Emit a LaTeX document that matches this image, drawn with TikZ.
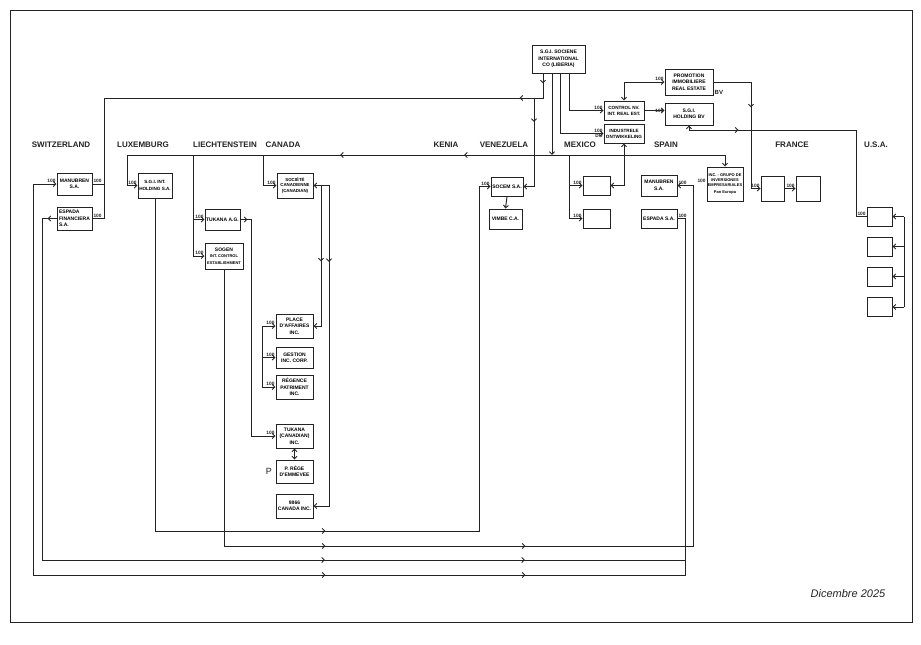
\documentclass[tikz,border=0pt]{standalone}
\usepackage{fontspec}
\setmainfont{Liberation Sans}
\usetikzlibrary{arrows.meta,calc,decorations.markings}
\definecolor{ink}{RGB}{35,35,35}
\newcommand\entsm{\fontsize{4}{5}\selectfont}
\tikzset{
  >={Straight Barb[length=2.6pt,width=5pt]},
  wire/.style={draw=ink,line width=0.95pt},
  ent/.style 2 args={draw=ink,line width=1pt,fill=white,inner sep=0.5pt,
    minimum width=#1,minimum height=#2,align=center,
    font=\bfseries\fontsize{5}{6.4}\selectfont},
  cty/.style={font=\bfseries\fontsize{8}{10}\selectfont,text=ink},
  pct/.style={font=\bfseries\fontsize{4.8}{5.2}\selectfont,text=ink,inner sep=0.8pt},
  fl/.style={postaction={decorate,decoration={markings,
    mark=at position #1 with {\arrow{>}}}}},
}
\begin{document}
\begin{tikzpicture}[x=1pt,y=-1pt]
\useasboundingbox (0,0) rectangle (921,645);
\draw[ink,line width=0.9pt] (10,10) rectangle (912,622);

% countries
\foreach \x/\t in {61/SWITZERLAND,143/LUXEMBURG,225/LIECHTENSTEIN,283/CANADA,
  446/KENIA,504/VENEZUELA,580/MEXICO,666/SPAIN,792/FRANCE,876/U.S.A.}
  \node[cty] (c\x) at (\x,145) {\t};

% holding at the top
\node[ent={53pt}{28pt}] (soc) at (558.5,59) {S.G.I. SOCIENE\\INTERNATIONAL\\CO (LIBERIA)};
\node[ent={48pt}{26pt}] (promo) at (689,82) {PROMOTION\\IMMOBILIERE\\REAL ESTATE};
\node[ent={40pt}{19pt},font=\bfseries\fontsize{4.6}{6}\selectfont] (ctrl) at (624,110.5) {CONTROL NV.\\INT. REAL EST.};
\node[ent={48pt}{22pt}] (hold) at (689,114) {S.G.I.\\HOLDING BV};
\node[ent={40pt}{19pt},font=\bfseries\fontsize{4.6}{6}\selectfont] (indus) at (624,133.5) {INDUSTRELE\\ONTWIKKELING};

% countries' companies
\node[ent={35pt}{22pt}] (chman) at (74.5,184) {MANUBREN\\S.A.};
\node[ent={35pt}{23pt},align=left] (chesp) at (74.5,218.5) {ESPADA\\FINANCIERA\\S.A.};
\node[ent={34pt}{25pt},font=\bfseries\fontsize{4.6}{6.2}\selectfont] (luxsgi) at (155,185.5) {S.G.I. INT.\\HOLDING S.A.};
\node[ent={35pt}{21pt}] (tukag) at (222.5,219.5) {TUKANA A.G.};
\node[ent={38pt}{26pt}] (sogen) at (224,256) {SOGEN\\{\entsm INT. CONTROL}\\{\entsm ESTABLISHMENT}};
\node[ent={36pt}{25pt},font=\bfseries\fontsize{4.4}{5.8}\selectfont] (soccan) at (295,185.5) {SOCIÉTÉ\\CANADIENNE\\(CANADIAN)};
\node[ent={37pt}{24pt}] (place) at (294.5,326) {PLACE\\D'AFFAIRES\\INC.};
\node[ent={37pt}{21pt}] (gestion) at (294.5,357.5) {GESTION\\INC. CORP.};
\node[ent={37pt}{24pt}] (regence) at (294.5,387) {RÉGENCE\\PATRIMENT\\INC.};
\node[ent={37pt}{24pt}] (tukcan) at (294.5,436) {TUKANA\\(CANADIAN)\\INC.};
\node[ent={37pt}{23pt}] (prege) at (294.5,471.5) {P. RÈGE\\D'EMMEVEE};
\node[ent={37pt}{24pt}] (c9866) at (294.5,506) {9866\\CANADA INC.};
\node[ent={32pt}{19pt}] (socem) at (507,186.5) {SOCEM S.A.};
\node[ent={33pt}{20pt}] (vimbe) at (505.5,219) {VIMBE C.A.};
\node[ent={27pt}{19pt}] (mx1) at (596.5,185.5) {};
\node[ent={27pt}{19pt}] (mx2) at (596.5,218.5) {};
\node[ent={36pt}{21pt}] (esman) at (659,185.5) {MANUBREN\\S.A.};
\node[ent={36pt}{19pt}] (esesp) at (659,218.5) {ESPADA S.A.};
\node[ent={36pt}{34pt},font=\bfseries\entsm] (grupo) at (725,184) {INC. - GRUPO DE\\INVERSIONES\\EMPRESARIALES\\[2pt]Pan Europa};
\node[ent={23pt}{25pt}] (fr1) at (772.5,188.5) {};
\node[ent={24pt}{25pt}] (fr2) at (808,188.5) {};
\foreach \i/\y in {1/216.5,2/246.5,3/276.5,4/307}
  \node[ent={25pt}{19pt}] (us\i) at (879.5,\y) {};

% shares
\foreach \b in {chman,luxsgi,tukag,sogen,soccan,place,gestion,regence,tukcan,
  socem,mx1,mx2,grupo,promo,ctrl,hold,indus,fr1,fr2,us1}
  \node[pct,anchor=south east] (l\b) at (\b.west) {100};
\foreach \b in {chman,chesp,esman,esesp}
  \node[pct,anchor=south west] (r\b) at (\b.east) {100};
\node[pct,anchor=north east] (dind) at (indus.west) {DO};
\node[font=\fontsize{9}{10}\selectfont,text=ink,anchor=east] (pnote) at (prege.west) {P};
\node[font=\bfseries\fontsize{6}{7}\selectfont,text=ink,anchor=south west,inner sep=1pt] (bv) at (promo.south east) {BV};
\node[font=\itshape\fontsize{11}{13}\selectfont,text=ink] (date) at (848,594) {Dicembre 2025};

% bends
\coordinate (jSW) at (104,98);
\coordinate (jV1) at (534,98);
\coordinate (bW) at (127,155);
\coordinate (bE) at (725,155);
\coordinate (jLI) at (193,155);
\coordinate (jCA) at (263,155);
\coordinate (jMX) at (569,155);
\coordinate (jFR) at (751,188.5);
\coordinate (jUS) at (856,130);
\coordinate (usR) at (904,216.5);
\coordinate (jPL) at (262,326);
\coordinate (cA) at (321,185.5);
\coordinate (cB) at (329,185.5);
\coordinate (jV) at (479,531);
\coordinate (jS1) at (693,546);
\coordinate (jE) at (42,560);
\coordinate (jE2) at (685,560);
\coordinate (jM) at (33,575);
\coordinate (jM2) at (685,575);

% from the top holding
\draw[wire,fl=10pt,fl=48pt] ([xshift=-15.5pt]soc.south) |- (jSW) |- (chesp.east);
\draw[wire] (chman.east) -- (chman.east -| jSW);
\draw[wire,->,fl=24pt] (jV1) |- (socem.east);
\draw[wire,->] ([xshift=-6.5pt]soc.south) -- ([xshift=-6.5pt]soc.south |- bW);
\draw[wire,->] ([xshift=1.5pt]soc.south) |- (indus.west);
\draw[wire,->] ([xshift=10.5pt]soc.south) |- (ctrl.west);
\draw[wire,<->] (ctrl.north) |- (promo.west);
\draw[wire,->] (ctrl.east) -- (ctrl.east -| hold.west);
\draw[wire,->,fl=63pt] (promo.east) -| (jFR) -- (fr1.west);
\draw[wire,->] (fr1.east) -- (fr2.west);
\draw[wire,<-,fl=54pt] (hold.south) |- (jUS) |- (us1.west);
\draw[wire] (usR) -- (usR |- us4.east);
\foreach \i in {1,...,4}
  \draw[wire,->] (usR |- us\i.east) -- (us\i.east);

% the bus
\draw[wire,fl=261pt,fl=385pt] (bE) -- (bW);
\draw[wire,->] (bE) -- (grupo.north);
\draw[wire,->] (bW) |- (luxsgi.west);
\draw[wire,->] (jLI) |- (sogen.west);
\draw[wire,->] (jLI |- tukag.west) -- (tukag.west);
\draw[wire,->] (jCA) |- (soccan.west);
\draw[wire,->] (jMX) |- (mx2.west);
\draw[wire,->] (jMX |- mx1.west) -- (mx1.west);
\draw[wire,<->] (indus.south) |- (mx1.east);
\draw[wire,->] (socem.south) -- (vimbe.north);

% canada
\draw[wire,->,fl=7pt] (tukag.east) -- ++(11,0) |- (tukcan.west);
\draw[wire,<->] (tukcan.south) -- (prege.north);
\draw[wire] (jPL) -- (jPL |- regence.west);
\foreach \b in {place,gestion,regence}
  \draw[wire,->] (jPL |- \b.west) -- (\b.west);
\draw[wire,<->,fl=92pt] (soccan.east) -- (cB) |- (c9866.east);
\draw[wire,->,fl=76pt] (cA) |- (place.east);

% loops along the bottom
\draw[wire,->,fl=503pt] (luxsgi.south) |- (jV) |- (socem.west);
\draw[wire,->,fl=378pt,fl=578pt] (sogen.south) |- (jS1) |- (esman.east);
\draw[wire,fl=9pt,fl=639pt,fl=839pt] (chesp.west) -| (jE) -- (jE2) |- (esesp.east);
\draw[wire,<-,fl=707pt,fl=907pt] (chman.west) -| (jM) -- (jM2) -- (jE2);
\end{tikzpicture}
\end{document}
